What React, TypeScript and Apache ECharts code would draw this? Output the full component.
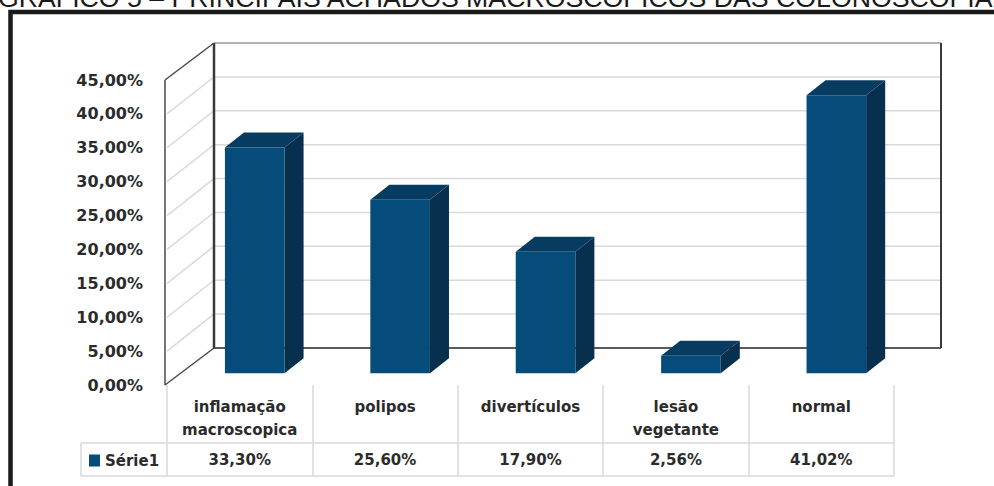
import { useEffect, useRef } from "react";
import * as echarts from "echarts";

// Findings and their shares, in percent
const categories = [
  "inflamação\nmacroscopica",
  "polipos",
  "divertículos",
  "lesão\nvegetante",
  "normal",
];
const seriesName = "Série1";
const values = [33.3, 25.6, 17.9, 2.56, 41.02];
const yTicks = [0, 5, 10, 15, 20, 25, 30, 35, 40, 45];
const titleText =
  "GRÁFICO 5 – PRINCIPAIS ACHADOS MACROSCÓPICOS DAS COLONOSCOPIAS";

// Oblique projection of the box depth (front plane -> back wall)
const DEPTH_X = 47;
const DEPTH_Y = -37;
// Bar depth placement as fractions of the box depth
const BAR_FRONT = 0.32;
const BAR_BACK = 0.725;
const BAR_WIDTH = 0.41;

const FONT = '"DejaVu Sans", sans-serif';
const TEXT_COLOR = "#2b2b2b";
const BAR_COLOR = "#064c7a";
const BAR_TOP = "#083b60";
const BAR_SIDE = "#07304f";
const GRID_COLOR = "#d9d9d9";
const EDGE_COLOR = "#4a4a4a";

const pct = (v: number) => v.toFixed(2).replace(".", ",") + "%";

const shift = (x: number, y: number, f: number) => [
  x + f * DEPTH_X,
  y + f * DEPTH_Y,
];

export default function App() {
  const ref = useRef<HTMLDivElement>(null);

  useEffect(() => {
    if (!ref.current) return;
    const chart = echarts.init(ref.current, undefined, { renderer: "svg" });
    const yMax = yTicks[yTicks.length - 1];

    const line = (a: number[], b: number[], stroke: string, lineWidth: number) => ({
      type: "line",
      shape: { x1: a[0], y1: a[1], x2: b[0], y2: b[1] },
      style: { stroke, lineWidth },
    });

    chart.setOption({
      animation: false,
      backgroundColor: "#ffffff",
      grid: { left: 167, right: 100, top: 80, bottom: 101 },
      legend: {
        data: [seriesName],
        left: 89,
        top: 453,
        padding: 0,
        icon: "rect",
        itemWidth: 11,
        itemHeight: 12,
        selectedMode: false,
        textStyle: {
          fontFamily: FONT,
          fontWeight: "bold",
          fontSize: 15,
          color: TEXT_COLOR,
        },
      },
      xAxis: {
        type: "category",
        data: categories,
        axisLine: { show: false },
        axisTick: {
          show: true,
          length: 91,
          lineStyle: { color: GRID_COLOR, width: 1.5 },
        },
        axisLabel: {
          interval: 0,
          margin: 10,
          lineHeight: 23,
          fontFamily: FONT,
          fontWeight: "bold",
          fontSize: 15,
          color: TEXT_COLOR,
        },
        splitLine: { show: false },
      },
      yAxis: {
        type: "value",
        min: 0,
        max: yMax,
        interval: 5,
        axisLine: { show: false },
        axisTick: { show: false },
        splitLine: { show: false },
        axisLabel: {
          margin: 24,
          padding: [6, 0, 0, 0],
          formatter: (v: number) => pct(v),
          fontFamily: FONT,
          fontWeight: "bold",
          fontSize: 16,
          color: TEXT_COLOR,
        },
      },
      graphic: [
        {
          type: "text",
          x: -2,
          y: -2.5,
          style: {
            text: titleText,
            font: '26.7px "Liberation Sans", Arial, sans-serif',
            fill: "#1a1a1a",
            verticalAlign: "middle",
          },
        },
        {
          type: "rect",
          shape: { x: 10.5, y: 12, width: 1000, height: 520 },
          style: { fill: "none", stroke: "#1a1a1a", lineWidth: 4.5 },
        },
        {
          type: "line",
          shape: { x1: 81, y1: 443, x2: 894, y2: 443 },
          style: { stroke: GRID_COLOR, lineWidth: 1.5 },
        },
        {
          type: "line",
          shape: { x1: 81, y1: 476, x2: 894, y2: 476 },
          style: { stroke: GRID_COLOR, lineWidth: 1.5 },
        },
        {
          type: "line",
          shape: { x1: 81, y1: 443, x2: 81, y2: 476 },
          style: { stroke: GRID_COLOR, lineWidth: 1.5 },
        },
      ],
      series: [
        {
          // gridlines on the side wall and back wall
          type: "custom",
          silent: true,
          clip: false,
          z: 1,
          data: yTicks.slice(1, -1).map((v) => [0, v]),
          encode: { x: 0, y: 1 },
          renderItem: (params: any, api: any) => {
            const cs = params.coordSys;
            const y = api.coord([0, api.value(1)])[1];
            const xl = cs.x;
            const xr = cs.x + cs.width;
            return {
              type: "polyline",
              shape: {
                points: [[xl, y], shift(xl, y, 1), shift(xr, y, 1)],
              },
              style: { stroke: GRID_COLOR, lineWidth: 1.5, fill: "none" },
            };
          },
        },
        {
          // walls of the box
          type: "custom",
          silent: true,
          clip: false,
          z: 2,
          data: [[0, 0]],
          encode: { x: 0, y: 1 },
          renderItem: (params: any, api: any) => {
            const cs = params.coordSys;
            const y0 = api.coord([0, 0])[1];
            const yt = api.coord([0, yMax])[1];
            const xl = cs.x - 2;
            const xr = cs.x + cs.width;
            return {
              type: "group",
              children: [
                line(shift(xl + 2, yt, 1), shift(xr, yt, 1), "#9a9a9a", 1.5),
                line(shift(xl + 2, y0, 1), shift(xr, y0, 1), "#5a5a5a", 2),
                line(shift(xl + 2, yt, 1), shift(xl + 2, y0, 1), "#3a3a3a", 2.5),
                line(shift(xr, yt, 1), shift(xr, y0, 1), "#3a3a3a", 2),
                line([xl, yt], [xl, y0], EDGE_COLOR, 1.5),
                line([xl, yt], shift(xl + 2, yt, 1), EDGE_COLOR, 1.5),
                line([xl, y0], shift(xl + 2, y0, 1), EDGE_COLOR, 1.5),
              ],
            };
          },
        },
        {
          name: seriesName,
          type: "custom",
          clip: false,
          z: 3,
          itemStyle: { color: BAR_COLOR },
          data: values.map((v, i) => [i, v]),
          encode: { x: 0, y: 1 },
          renderItem: (params: any, api: any) => {
            const cs = params.coordSys;
            const i = api.value(0);
            const v = api.value(1);
            const [cx, yv] = api.coord([i, v]);
            const y0 = api.coord([i, 0])[1];
            const w = api.size([1, 0])[0] * BAR_WIDTH;
            const xl = cx - w / 2;
            const xr = cx + w / 2;
            const f1 = BAR_FRONT;
            const f2 = BAR_BACK;
            return {
              type: "group",
              children: [
                {
                  type: "polygon",
                  shape: {
                    points: [
                      shift(xr, y0, f1),
                      shift(xr, y0, f2),
                      shift(xr, yv, f2),
                      shift(xr, yv, f1),
                    ],
                  },
                  style: { fill: BAR_SIDE },
                },
                {
                  type: "polygon",
                  shape: {
                    points: [
                      shift(xl, yv, f1),
                      shift(xr, yv, f1),
                      shift(xr, yv, f2),
                      shift(xl, yv, f2),
                    ],
                  },
                  style: { fill: BAR_TOP },
                },
                {
                  type: "polygon",
                  shape: {
                    points: [
                      shift(xl, y0, f1),
                      shift(xr, y0, f1),
                      shift(xr, yv, f1),
                      shift(xl, yv, f1),
                    ],
                  },
                  style: { fill: api.visual("color") },
                },
                {
                  type: "text",
                  x: cx,
                  y: cs.y + cs.height + 75,
                  style: {
                    text: pct(v),
                    fill: TEXT_COLOR,
                    font: `bold 15px ${FONT}`,
                    align: "center",
                    verticalAlign: "middle",
                  },
                },
              ],
            };
          },
        },
      ],
    });

    return () => chart.dispose();
  }, []);

  return (
    <div
      ref={ref}
      style={{ position: "fixed", left: 0, top: 0, width: 994, height: 486 }}
    />
  );
}
